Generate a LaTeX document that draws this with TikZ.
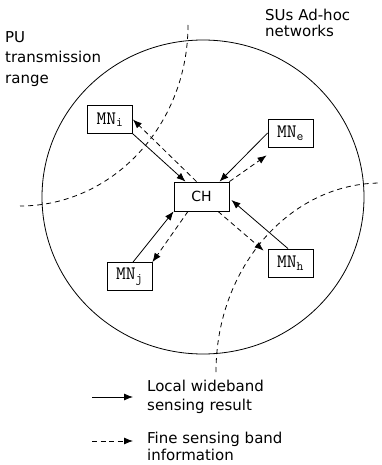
\documentclass[tikz,border=0pt]{standalone}
\usepackage{fontspec}
\setmainfont{DejaVu Sans}
\usetikzlibrary{arrows.meta,calc}
\tikzset{
  box/.style={draw, line width=0.8pt, inner sep=0pt, minimum width=45pt, minimum height=28pt, font=\ttfamily\fontsize{19}{19}\selectfont},
  chbox/.style={draw, line width=0.8pt, inner sep=0pt, minimum width=55pt, minimum height=29pt, font=\fontsize{14}{14}\selectfont},
  conn/.style={-{Latex[length=9pt,width=7pt]}, line width=0.8pt},
  dconn/.style={conn, dash pattern=on 5pt off 3.5pt},
  curve/.style={line width=0.8pt, dash pattern=on 5pt off 4pt},
  lbl/.style={anchor=north west, inner sep=0pt, align=left},
}
\begin{document}
\begin{tikzpicture}[x=1pt, y=-1pt]
\useasboundingbox (0,0) rectangle (381,465);
% SU network range
\draw[line width=0.8pt] (203,197) ellipse[x radius=161, y radius=157];
% PU ranges
\draw[curve] (188,25) arc[start angle=0, end angle=90, x radius=168, y radius=181];
\draw[curve] (216,372) arc[start angle=180, end angle=270, x radius=165, y radius=189];
% labels
\node[lbl, font=\fontsize{15}{20.5}\selectfont] (pu) at (5,31.2) {PU\\transmission\\range};
\node[lbl, font=\fontsize{15}{16}\selectfont] (su) at (265,9.4) {SUs Ad-hoc\\networks};
% nodes
\node[chbox] (CH) at (201.5,196.5) {CH};
\node[box] (MNi) at (110,119.5) {MN\textsubscript{i}};
\node[box] (MNe) at (290.5,133) {MN\textsubscript{e}};
\node[box] (MNj) at (129.5,276.5) {MN\textsubscript{j}};
\node[box] (MNh) at (290.5,263) {MN\textsubscript{h}};
% connectors
\draw[conn] (MNi.south east) -- ([xshift=-16pt]CH.north);
\draw[dconn] ([xshift=-5pt]CH.north) -- (MNi.east);
\draw[conn] (MNe.west) -- ([xshift=18pt]CH.north);
\draw[dconn] (CH.north east) -- ($(MNe.south west)+(-1,8)$);
\draw[conn] ([xshift=3.5pt]MNj.north) -- (CH.south west);
\draw[dconn] ([xshift=-13.5pt]CH.south) -- (MNj.north east);
\draw[conn] ([xshift=-2.5pt]MNh.north) -- ($(CH.east)+(2,3.5)$);
\draw[dconn] ([xshift=16.5pt]CH.south) -- ($(MNh.north west)+(-4,2)$);
% legend
\coordinate (l1a) at (92,397);
\coordinate (l1b) at (133,397);
\coordinate (l2a) at (92,441);
\coordinate (l2b) at (133,441);
\draw[conn] (l1a) -- (l1b);
\draw[dconn] (l2a) -- (l2b);
\node[lbl, font=\fontsize{15}{19}\selectfont] (leg1) at (147,379.6) {Local wideband\\sensing result};
\node[lbl, font=\fontsize{15}{17}\selectfont] (leg2) at (147,431.6) {Fine sensing band\\information};
\end{tikzpicture}
\end{document}
